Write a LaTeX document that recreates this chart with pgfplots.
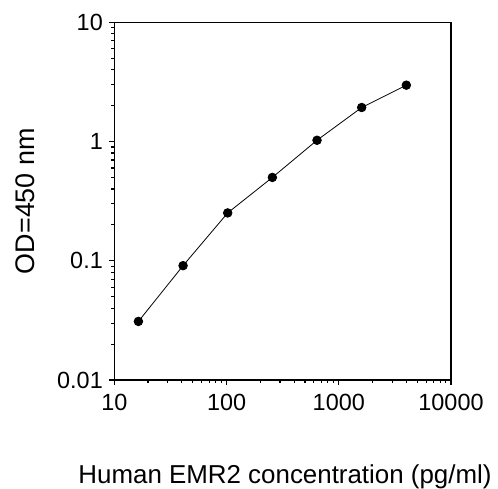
\documentclass[border=0pt]{standalone}
\usepackage{pgfplots}
\pgfplotsset{compat=1.18}
\usepackage{fontspec}
\setmainfont{Liberation Sans}
\begin{document}
\begin{tikzpicture}
\useasboundingbox (0,0) rectangle (498bp,489bp);
\begin{axis}[
  at={(114.3bp,109bp)}, anchor=south west,
  scale only axis,
  width=336.7bp, height=357.7bp,
  xmode=log, ymode=log,
  xmin=10, xmax=10000, ymin=0.01, ymax=10,
  xtick={10,100,1000,10000},
  xticklabels={10,100,1000,10000},
  ytick={0.01,0.1,1,10},
  yticklabels={0.01,0.1,1,10},
  minor tick num=0,
  minor xtick={}, minor ytick={},
  tick align=outside,
  xtick pos=bottom, ytick pos=left,
  major tick length=5bp,
  axis line style={line width=1.2bp},
  every tick/.style={black, line width=1.2bp},
  ticklabel style={font=\fontsize{23.5}{27}\selectfont},
  xticklabel style={yshift=-6bp},
  yticklabel style={xshift=-3bp},
  xlabel={Human EMR2 concentration (pg/ml)},
  ylabel={OD=450 nm},
  xlabel style={font=\fontsize{26}{30}\selectfont,
    at={([yshift=-103bp]axis description cs:0.507,0)}, anchor=base},
  ylabel style={font=\fontsize{27}{31}\selectfont,
    at={([xshift=-89bp]axis description cs:0,0.5)}, anchor=center},
]
\addplot[black, line width=0.8bp, mark=*, mark size=4.3bp] coordinates {
  (16.4,0.031) (41,0.091) (102.4,0.252) (256,0.50)
  (640,1.025) (1600,1.93) (4000,2.97)
};
\end{axis}
\end{tikzpicture}
\end{document}
